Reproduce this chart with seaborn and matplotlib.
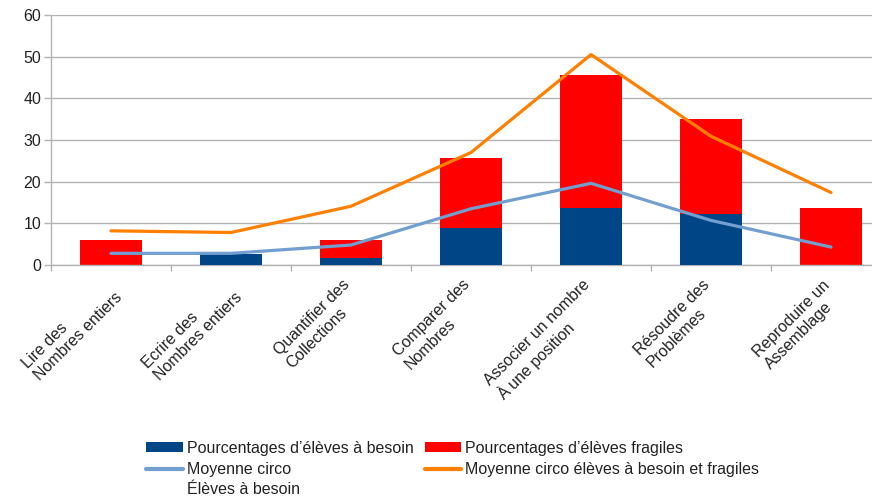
import numpy as np
import pandas as pd
import matplotlib
matplotlib.use("Agg")
import matplotlib.pyplot as plt
import matplotlib.transforms as mtransforms
from matplotlib.lines import Line2D
from matplotlib.patches import Patch
import seaborn as sns

# -------------------------------
# Data
# -------------------------------
categories = [
    "Lire des\nNombres entiers",
    "Ecrire des\nNombres entiers",
    "Quantifier des\nCollections",
    "Comparer des\nNombres",
    "Associer un nombre\nÀ une position",
    "Résoudre des\nProblèmes",
    "Reproduire un\nAssemblage",
]
besoin = [0, 2.7, 1.6, 9.0, 13.7, 12.3, 0]
fragiles = [6.1, 0, 4.5, 16.8, 31.8, 22.7, 13.7]
moy_besoin = [2.8, 2.8, 4.8, 13.5, 19.6, 10.7, 4.3]
moy_besoin_fragiles = [8.2, 7.8, 14.1, 27.0, 50.5, 30.9, 17.4]

labels = [
    "Pourcentages d\u2019élèves à besoin",
    "Pourcentages d\u2019élèves fragiles",
    "Moyenne circo",
    "Moyenne circo élèves à besoin et fragiles",
]
label_extra = "Élèves à besoin"  # second line of the 3rd legend label

c_besoin = "#004586"
c_fragiles = "#ff0000"
c_moy1 = "#729fcf"
c_moy2 = "#ff8000"
grid_c = "#b3b3b3"
txt_c = "#222222"
fs = 11.5

df = pd.DataFrame({
    "cat": categories,
    "besoin": besoin,
    "total": np.array(besoin) + np.array(fragiles),
    "moy1": moy_besoin,
    "moy2": moy_besoin_fragiles,
})
df["pos"] = np.arange(len(df))

sns.set_style("white")
plt.rcParams["font.family"] = ["Liberation Sans", "DejaVu Sans"]

fig = plt.figure(figsize=(8.72, 5.0), dpi=100)
# plot area runs a little past the right edge of the picture (as in the original)
ax = fig.add_axes([51 / 872, 1 - 265 / 500, 840 / 872, 250 / 500])

# stacked bars: total in red, "à besoin" part drawn over it
sns.barplot(data=df, x="cat", y="total", color=c_fragiles, width=0.51,
            saturation=1, linewidth=0, ax=ax, zorder=2)
sns.barplot(data=df, x="cat", y="besoin", color=c_besoin, width=0.51,
            saturation=1, linewidth=0, ax=ax, zorder=3)

sns.lineplot(data=df, x="pos", y="moy1", color=c_moy1, linewidth=2.3,
             ax=ax, zorder=4)
sns.lineplot(data=df, x="pos", y="moy2", color=c_moy2, linewidth=2.3,
             ax=ax, zorder=4)

ax.set_xlim(-0.5, len(categories) - 0.5)
ax.set_ylim(0, 60)
ax.set_yticks(range(0, 61, 10))
ax.set_xlabel("")
ax.set_ylabel("")

ax.yaxis.grid(True, color=grid_c, linewidth=1)
ax.set_axisbelow(True)
for s in ["top", "right"]:
    ax.spines[s].set_visible(False)
for s in ["left", "bottom"]:
    ax.spines[s].set_color(grid_c)
    ax.spines[s].set_linewidth(1)

ax.tick_params(axis="y", length=5, width=1, color=grid_c, pad=2,
               labelsize=fs, labelcolor=txt_c, left=True)

# category labels at centres, tick marks at boundaries
ax.set_xticks(range(len(categories)))
ax.set_xticklabels(categories, rotation=45, ha="right", va="top",
                   rotation_mode="anchor", fontsize=fs, color=txt_c,
                   multialignment="left")
ax.set_xticks(np.arange(-0.5, len(categories), 1), minor=True)
ax.tick_params(axis="x", which="major", length=0, pad=11)
ax.tick_params(axis="x", which="minor", length=4, width=1, color=grid_c,
               bottom=True)
shift = mtransforms.ScaledTranslation(-0.09, 0.03, fig.dpi_scale_trans)
for lab in ax.get_xticklabels():
    lab.set_transform(lab.get_transform() + shift)

handles = [
    Patch(facecolor=c_besoin, edgecolor="none"),
    Line2D([], [], color=c_moy1, linewidth=3),
    Patch(facecolor=c_fragiles, edgecolor="none"),
    Line2D([], [], color=c_moy2, linewidth=3),
]
leg_labels = [labels[0], labels[2], labels[1], labels[3]]
leg = fig.legend(handles, leg_labels, ncol=2, loc="upper left",
                 bbox_to_anchor=(146 / 872, 1 - 441 / 500), frameon=False,
                 fontsize=fs, handlelength=2.3, handleheight=0.6,
                 handletextpad=0.25, columnspacing=0.7, labelspacing=0.4,
                 borderpad=0, borderaxespad=0, alignment="left")
for t in leg.get_texts():
    t.set_color(txt_c)

# second line of "Moyenne circo" placed right under it
fig.canvas.draw()
bb = leg.get_texts()[1].get_window_extent()
fig.text(bb.x0 / 872, (bb.y0 - 20) / 500, label_extra, fontsize=fs,
         color=txt_c, ha="left", va="bottom")

fig.savefig("out.png", dpi=100)
